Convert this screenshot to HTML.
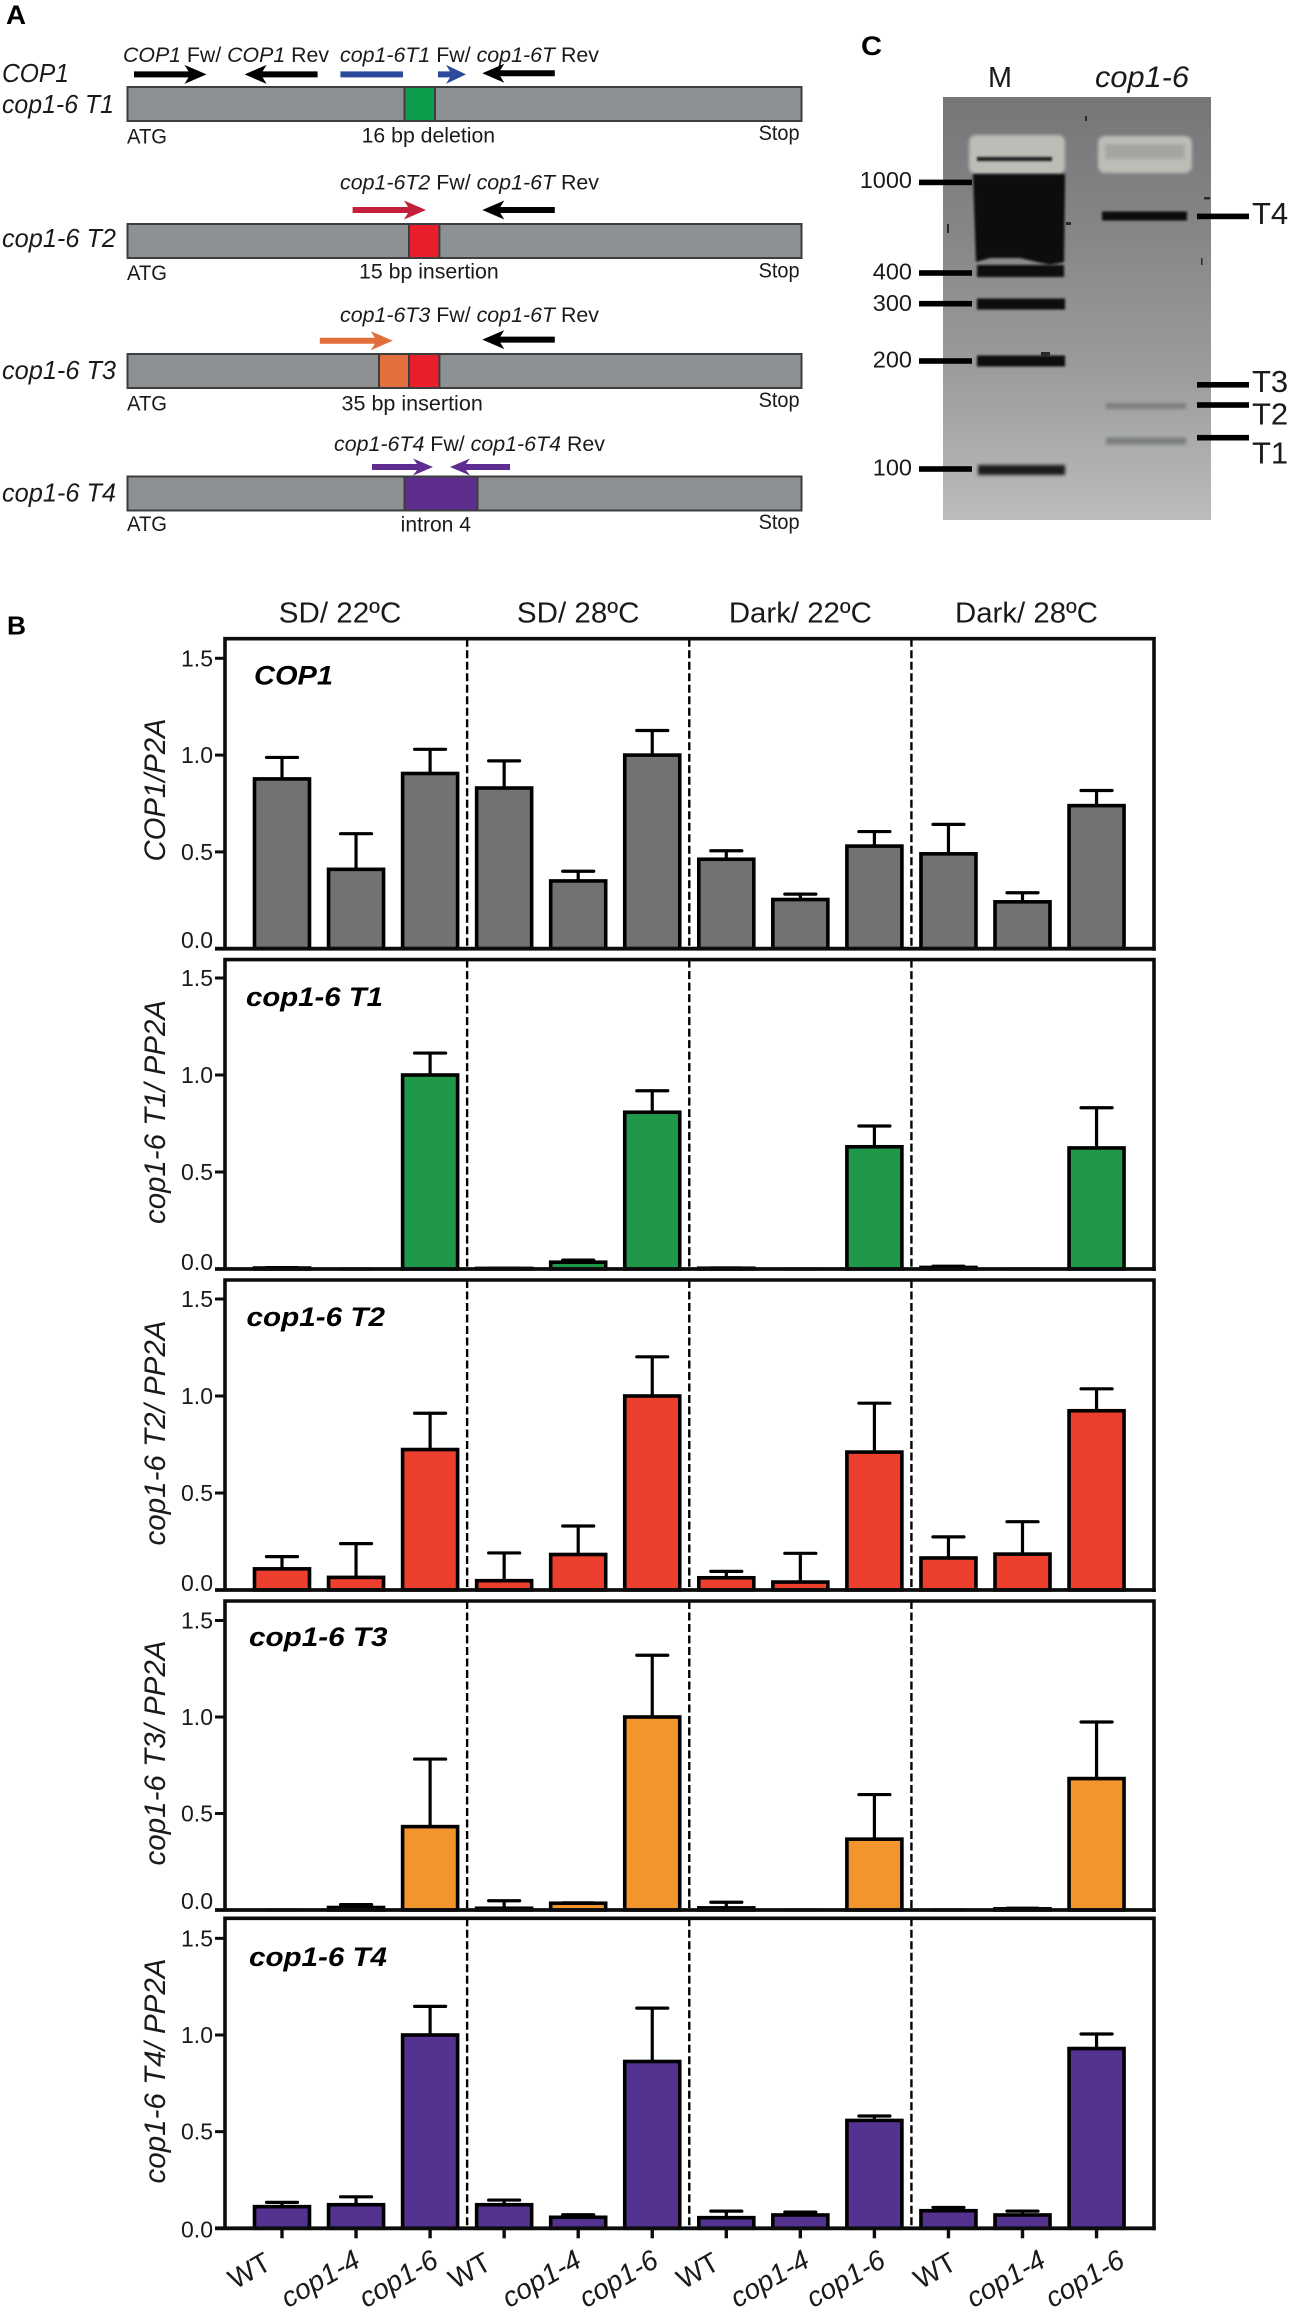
<!DOCTYPE html>
<html lang="en">
<head>
<meta charset="utf-8">
<title>cop1-6 transcripts figure</title>
<style>
html,body{margin:0;padding:0;background:#fff;width:1289px;height:2310px;overflow:hidden}
svg{display:block;font-family:"Liberation Sans",Arial,sans-serif;fill:#1a1a1a}
.i{font-style:italic}
</style>
</head>
<body>
<svg id="figure" xmlns="http://www.w3.org/2000/svg" width="1289" height="2310" viewBox="0 0 1289 2310">
<defs>
<linearGradient id="gelGrad" x1="0" y1="0" x2="0" y2="1">
<stop offset="0" stop-color="#747677"/><stop offset=".3" stop-color="#838586"/><stop offset=".65" stop-color="#9a9c9d"/><stop offset="1" stop-color="#babcbd"/>
</linearGradient>
<filter id="b1" x="-10%" y="-60%" width="120%" height="220%"><feGaussianBlur stdDeviation="1"/></filter>
<filter id="b2" x="-10%" y="-80%" width="120%" height="260%"><feGaussianBlur stdDeviation="1.6"/></filter>
</defs>
<rect width="1289" height="2310" fill="#fff"/>

<!-- Panel letters -->
<text x="6" y="24" font-size="27" font-weight="bold" fill="#000" textLength="20" lengthAdjust="spacingAndGlyphs">A</text>
<text x="7" y="634.5" font-size="26" font-weight="bold" fill="#000" textLength="19" lengthAdjust="spacingAndGlyphs">B</text>
<text x="861" y="55" font-size="27" font-weight="bold" fill="#000" textLength="21" lengthAdjust="spacingAndGlyphs">C</text>

<!-- Panel A -->
<g id="panel-a">
  <text class="i" x="2" y="82" font-size="26" textLength="67" lengthAdjust="spacingAndGlyphs">COP1</text>
  <text class="i" x="2" y="113" font-size="26" textLength="112" lengthAdjust="spacingAndGlyphs">cop1-6 T1</text>
  <text class="i" x="2" y="246.8" font-size="26" textLength="114" lengthAdjust="spacingAndGlyphs">cop1-6 T2</text>
  <text class="i" x="2" y="379" font-size="26" textLength="114" lengthAdjust="spacingAndGlyphs">cop1-6 T3</text>
  <text class="i" x="2" y="501.3" font-size="26" textLength="114" lengthAdjust="spacingAndGlyphs">cop1-6 T4</text>

  <text x="123" y="61.8" font-size="21" textLength="206" lengthAdjust="spacingAndGlyphs"><tspan class="i">COP1</tspan> Fw/ <tspan class="i">COP1</tspan> Rev</text>
  <text x="340" y="61.8" font-size="21" textLength="259" lengthAdjust="spacingAndGlyphs"><tspan class="i">cop1-6T1</tspan> Fw/ <tspan class="i">cop1-6T</tspan> Rev</text>
  <text x="340" y="189.4" font-size="21" textLength="259" lengthAdjust="spacingAndGlyphs"><tspan class="i">cop1-6T2</tspan> Fw/ <tspan class="i">cop1-6T</tspan> Rev</text>
  <text x="340" y="322" font-size="21" textLength="259" lengthAdjust="spacingAndGlyphs"><tspan class="i">cop1-6T3</tspan> Fw/ <tspan class="i">cop1-6T</tspan> Rev</text>
  <text x="334" y="451" font-size="21" textLength="271" lengthAdjust="spacingAndGlyphs"><tspan class="i">cop1-6T4</tspan> Fw/ <tspan class="i">cop1-6T4</tspan> Rev</text>

  <path transform="translate(206.5,74.4)" fill="#000" d="M0 0L-22 -9.5L-18 -3H-72.5V3H-18L-22 9.5Z"/>
  <path transform="translate(244.6,74.4) scale(-1,1)" fill="#000" d="M0 0L-22 -9.5L-18 -3H-73V3H-18L-22 9.5Z"/>
  <rect x="340.4" y="71.4" width="62.6" height="6" fill="#2b4a9b"/>
  <path transform="translate(466,74.4)" fill="#2b4a9b" d="M0 0L-20 -9.5L-16 -3H-28V3H-16L-20 9.5Z"/>
  <path transform="translate(482.3,73.3) scale(-1,1)" fill="#000" d="M0 0L-22 -9.5L-18 -3H-72.5V3H-18L-22 9.5Z"/>
  <path transform="translate(426,210)" fill="#c4203b" d="M0 0L-22 -9.5L-18 -3H-73.4V3H-18L-22 9.5Z"/>
  <path transform="translate(482.3,210) scale(-1,1)" fill="#000" d="M0 0L-22 -9.5L-18 -3H-72.5V3H-18L-22 9.5Z"/>
  <path transform="translate(392.8,340.7)" fill="#e26f3b" d="M0 0L-22 -9.5L-18 -3H-73V3H-18L-22 9.5Z"/>
  <path transform="translate(482.3,339.6) scale(-1,1)" fill="#000" d="M0 0L-22 -9.5L-18 -3H-72.5V3H-18L-22 9.5Z"/>
  <path transform="translate(433,467)" fill="#5f2d91" d="M0 0L-20 -8.5L-16 -3H-61V3H-16L-20 8.5Z"/>
  <path transform="translate(450,467) scale(-1,1)" fill="#5f2d91" d="M0 0L-20 -8.5L-16 -3H-60V3H-16L-20 8.5Z"/>

  <g stroke="#3b3d3e" stroke-width="2">
    <rect x="127.5" y="87" width="674" height="34" fill="#8d9193"/>
    <rect x="404.5" y="87" width="30.5" height="34" fill="#0e9d4c"/>
    <rect x="127.5" y="224" width="674" height="34" fill="#8d9193"/>
    <rect x="409" y="224" width="30.4" height="34" fill="#e91f2d"/>
    <rect x="127.5" y="354" width="674" height="34" fill="#8d9193"/>
    <rect x="379" y="354" width="30" height="34" fill="#e26f3e"/>
    <rect x="409" y="354" width="30.4" height="34" fill="#e91f2d"/>
    <rect x="127.5" y="476.5" width="674" height="34" fill="#8d9193"/>
    <rect x="404.5" y="476.5" width="73" height="34" fill="#5f2d8e"/>
  </g>

  <text x="127" y="143.5" font-size="21" textLength="40" lengthAdjust="spacingAndGlyphs">ATG</text>
  <text x="127" y="280" font-size="21" textLength="40" lengthAdjust="spacingAndGlyphs">ATG</text>
  <text x="127" y="410.7" font-size="21" textLength="40" lengthAdjust="spacingAndGlyphs">ATG</text>
  <text x="127" y="531" font-size="21" textLength="40" lengthAdjust="spacingAndGlyphs">ATG</text>
  <text x="758.6" y="139.8" font-size="21" textLength="41" lengthAdjust="spacingAndGlyphs">Stop</text>
  <text x="758.6" y="277.5" font-size="21" textLength="41" lengthAdjust="spacingAndGlyphs">Stop</text>
  <text x="758.6" y="407" font-size="21" textLength="41" lengthAdjust="spacingAndGlyphs">Stop</text>
  <text x="758.6" y="529" font-size="21" textLength="41" lengthAdjust="spacingAndGlyphs">Stop</text>
  <text x="361.6" y="142.4" font-size="21" textLength="133.5" lengthAdjust="spacingAndGlyphs">16 bp deletion</text>
  <text x="359" y="278.6" font-size="21" textLength="139.7" lengthAdjust="spacingAndGlyphs">15 bp insertion</text>
  <text x="341.5" y="410.7" font-size="21" textLength="141.3" lengthAdjust="spacingAndGlyphs">35 bp insertion</text>
  <text x="400.7" y="531.6" font-size="21" textLength="70.3" lengthAdjust="spacingAndGlyphs">intron 4</text>
</g>

<!-- Panel C -->
<g id="panel-c">
  <text x="988" y="87" font-size="29" textLength="24" lengthAdjust="spacingAndGlyphs">M</text>
  <text class="i" x="1095" y="87" font-size="30" textLength="94" lengthAdjust="spacingAndGlyphs">cop1-6</text>
  <rect x="943" y="97" width="268" height="423" fill="url(#gelGrad)"/>
  <rect x="969" y="135" width="96" height="39" rx="7" fill="#bcbdb6" filter="url(#b2)"/>
  <rect x="1098" y="136" width="94" height="37" rx="7" fill="#bcbdb7" filter="url(#b2)"/>
  <rect x="1105" y="144" width="80" height="15" fill="#a5a6a3" filter="url(#b2)"/>
  <rect x="977" y="157" width="75" height="4" fill="#1a1a1a" filter="url(#b1)"/>
  <path d="M973 174H1065L1064 262L1050 265L1020 258L990 258L976 262Z" fill="#0a0a0a" filter="url(#b1)"/>
  <rect x="977" y="265" width="87" height="12" fill="#111" filter="url(#b1)"/>
  <rect x="977" y="298.5" width="88" height="11" fill="#0e0e0e" filter="url(#b1)"/>
  <rect x="977" y="355.5" width="88" height="11" fill="#0e0e0e" filter="url(#b1)"/>
  <rect x="978" y="465" width="87" height="10" fill="#1c1c1c" filter="url(#b2)"/>
  <rect x="1102" y="211.5" width="85" height="9" fill="#0c0c0c" filter="url(#b1)"/>
  <rect x="1106" y="403" width="80" height="6" fill="#6f7172" opacity=".7" filter="url(#b2)"/>
  <rect x="1106" y="437.5" width="80" height="7" fill="#6a6c6d" opacity=".7" filter="url(#b2)"/>
  <g fill="#2a2a2a">
    <rect x="1204" y="197" width="6" height="2.5"/>
    <rect x="1066" y="222" width="5" height="3"/>
    <rect x="1201" y="258" width="1.5" height="7"/>
    <rect x="1041" y="352" width="9" height="4"/>
    <rect x="947" y="224" width="2" height="9"/>
    <rect x="1085" y="116" width="2" height="5"/>
  </g>
  <g fill="#000">
    <rect x="919" y="179.6" width="53" height="5.6"/>
    <rect x="919" y="270.2" width="53" height="5.6"/>
    <rect x="919" y="300.9" width="53" height="5.6"/>
    <rect x="919" y="358.2" width="53" height="5.6"/>
    <rect x="919" y="466.2" width="53" height="5.6"/>
    <rect x="1197" y="213.6" width="52" height="5.6"/>
    <rect x="1197" y="382" width="52" height="5.6"/>
    <rect x="1197" y="402.2" width="52" height="5.6"/>
    <rect x="1197" y="434.9" width="52" height="5.6"/>
  </g>
  <g font-size="23.5" text-anchor="end">
    <text x="912" y="188">1000</text>
    <text x="912" y="279.3">400</text>
    <text x="912" y="310.8">300</text>
    <text x="912" y="367.4">200</text>
    <text x="912" y="475.4">100</text>
  </g>
  <g font-size="31">
    <text x="1252" y="223.8">T4</text>
    <text x="1252" y="392">T3</text>
    <text x="1252" y="424.7">T2</text>
    <text x="1252" y="463.6">T1</text>
  </g>
</g>

<!-- Panel B -->
<g id="panel-b"></g>
</svg>

<script>
// ---- chart data ----
const conditions = ["SD/ 22\u00baC", "SD/ 28\u00baC", "Dark/ 22\u00baC", "Dark/ 28\u00baC"];
const genotypes = ["WT", "cop1-4", "cop1-6"];
const tickValues = [0, 0.5, 1, 1.5];
const tickLabels = ["0.0", "0.5", "1.0", "1.5"];

const cop1Means = [0.877, 0.41, 0.905, 0.83, 0.35, 1.0, 0.462, 0.254, 0.53, 0.49, 0.242, 0.739];
const cop1Errors = [0.111, 0.184, 0.125, 0.14, 0.05, 0.127, 0.044, 0.028, 0.075, 0.152, 0.047, 0.078];

const t1Means = [0.005, 0, 1.0, 0.003, 0.035, 0.808, 0.004, 0, 0.63, 0.008, 0, 0.624];
const t1Errors = [0.002, 0, 0.113, 0.001, 0.011, 0.111, 0.001, 0, 0.107, 0.006, 0, 0.207];

const t2Means = [0.109, 0.065, 0.724, 0.048, 0.183, 1.0, 0.063, 0.041, 0.711, 0.165, 0.185, 0.924];
const t2Errors = [0.063, 0.174, 0.187, 0.143, 0.147, 0.202, 0.033, 0.148, 0.252, 0.109, 0.167, 0.113];

const t3Means = [0, 0.013, 0.432, 0.009, 0.035, 1.0, 0.011, 0, 0.367, 0, 0.006, 0.681];
const t3Errors = [0, 0.015, 0.35, 0.039, 0.002, 0.32, 0.029, 0, 0.231, 0, 0.003, 0.293];

const t4Means = [0.112, 0.122, 1.0, 0.122, 0.057, 0.863, 0.055, 0.069, 0.558, 0.091, 0.069, 0.93];
const t4Errors = [0.022, 0.041, 0.148, 0.024, 0.013, 0.276, 0.034, 0.015, 0.023, 0.017, 0.02, 0.075];

// ---- layout ----
const panels = [
  {key:"cop1", title:"COP1", yTitle:null, means:cop1Means, errors:cop1Errors, fill:"#717274", top:638.7, zero:948.7, unit:193.6, zeroLabelDy:-0.7, titleBase:684.3, titleX:254, titleLen:79, yCenter:790, yLen:143},
  {key:"t1", title:"cop1-6 T1", yTitle:"cop1-6 T1/ PP2A", means:t1Means, errors:t1Errors, fill:"#1f9849", top:959.6, zero:1269, unit:194, zeroLabelDy:1, titleBase:1006, titleX:246, titleLen:137, yCenter:1112, yLen:224},
  {key:"t2", title:"cop1-6 T2", yTitle:"cop1-6 T2/ PP2A", means:t2Means, errors:t2Errors, fill:"#ec3f2d", top:1280, zero:1590, unit:194, zeroLabelDy:1, titleBase:1326, titleX:246.5, titleLen:138.5, yCenter:1433, yLen:225},
  {key:"t3", title:"cop1-6 T3", yTitle:"cop1-6 T3/ PP2A", means:t3Means, errors:t3Errors, fill:"#f2952c", top:1601, zero:1910, unit:193, zeroLabelDy:-1, titleBase:1645.8, titleX:249, titleLen:138.5, yCenter:1753, yLen:225},
  {key:"t4", title:"cop1-6 T4", yTitle:"cop1-6 T4/ PP2A", means:t4Means, errors:t4Errors, fill:"#54328f", top:1918.3, zero:2228.3, unit:193.3, zeroLabelDy:9, titleBase:1966, titleX:249, titleLen:138, yCenter:2071, yLen:225}
];
const plotLeft = 225, plotRight = 1154, tickLeft = 215;
const firstBarX = 282, barStep = 74.05, barHalf = 27.5;
const labelNudge = [-9, 6, 10, -11, 5, 8, -5, 11, 13, 10, 25, 30];
const NS = "http://www.w3.org/2000/svg";
const root = document.getElementById("panel-b");

function xScale(i) { return firstBarX + barStep * i; }
function yScale(p, v) { return p.zero - v * p.unit; }
function make(tag, attrs, parent, txt) {
  const el = document.createElementNS(NS, tag);
  for (const k in attrs) el.setAttribute(k, attrs[k]);
  if (txt !== undefined) el.textContent = txt;
  parent.appendChild(el);
  return el;
}

// column headings
conditions.forEach(function (c, i) {
  const cx = (xScale(i * 3) + xScale(i * 3 + 2)) / 2 + [-16, 0, 0, 4][i];
  const el = make("text", {x: cx, y: 622.7, "font-size": 29, "text-anchor": "middle", textLength: i < 2 ? 122.5 : 143, lengthAdjust: "spacingAndGlyphs"}, root, c);
  
  
});

panels.forEach(function (p) {
  const g = make("g", {}, root);
  
  

  // dashed separators
  [1, 2, 3].forEach(function (n) {
    const sx = (xScale(n * 3 - 1) + xScale(n * 3)) / 2;
    const sep = make("line", {x1: sx, x2: sx, y1: p.top, y2: p.zero, stroke: "#000", "stroke-width": 2.4, "stroke-dasharray": "8 3.5"}, g);
    
    
  });

  // error bars then bars
  p.means.forEach(function (m, i) {
    const cx = xScale(i);
    const capY = yScale(p, m + p.errors[i]);
    const stem = make("line", {x1: cx, x2: cx, y1: yScale(p, m), y2: capY, stroke: "#000", "stroke-width": 3.2}, g);
    
    
    const cap = make("line", {x1: cx - 15.5, x2: cx + 15.5, y1: capY, y2: capY, stroke: "#000", "stroke-width": 3.2, "stroke-linecap": "round"}, g);
    
    
    const top = yScale(p, m);
    const bar = make("rect", {x: cx - barHalf, y: top, width: barHalf * 2, height: Math.max(0, p.zero - top), fill: p.fill, stroke: "#000", "stroke-width": 3.6}, g);
    
    
  });

  // frame
  const frame = make("path", {d: "M" + plotLeft + " " + p.zero + "V" + p.top + "H" + plotRight + "V" + (p.zero + 2), fill: "none", stroke: "#0c0c0c", "stroke-width": 3.6}, g);
  
  
  const xAxis = make("line", {x1: tickLeft, x2: plotRight + 1.8, y1: p.zero, y2: p.zero, stroke: "#0c0c0c", "stroke-width": 3.8}, g);
  
  

  // y ticks
  tickValues.forEach(function (v, i) {
    const ty = yScale(p, v);
    const t = make("line", {x1: tickLeft, x2: plotLeft, y1: ty, y2: ty, stroke: "#0c0c0c", "stroke-width": 3}, g);
    
    
    const base = v === 0 ? p.zero + p.zeroLabelDy : ty + 8;
    const lab = make("text", {x: 213, y: base, "font-size": 23, "text-anchor": "end"}, g, tickLabels[i]);
    
    
  });

  // inner title
  const title = make("text", {x: p.titleX, y: p.titleBase, "font-size": 27, "font-weight": "bold", "font-style": "italic", fill: "#000", textLength: p.titleLen, lengthAdjust: "spacingAndGlyphs"}, g, p.title);
  
  

  // y axis title
  const yt = make("text", {transform: "translate(165," + p.yCenter + ") rotate(-90)", "font-size": 30, "font-style": "italic", "text-anchor": "middle", textLength: p.yLen, lengthAdjust: "spacingAndGlyphs"}, g, p.yTitle === null ? "COP1/P2A" : p.yTitle);
  
  
});

// x ticks + labels on bottom chart
const last = panels[panels.length - 1];
last.means.forEach(function (m, i) {
  const cx = xScale(i);
  const tick = make("line", {x1: cx, x2: cx, y1: last.zero, y2: last.zero + 10, stroke: "#0c0c0c", "stroke-width": 3.4}, root);
  
  
  const name = genotypes[i % 3];
  const attrs = {transform: "translate(" + (cx + labelNudge[i]) + "," + (name === "WT" ? 2268 : 2265.5) + ") rotate(-30)", "font-size": 28, "text-anchor": "end"};
  if (name !== "WT") attrs["font-style"] = "italic";
  const lab = make("text", attrs, root, name);
  
  
});
</script>
</body>
</html>
